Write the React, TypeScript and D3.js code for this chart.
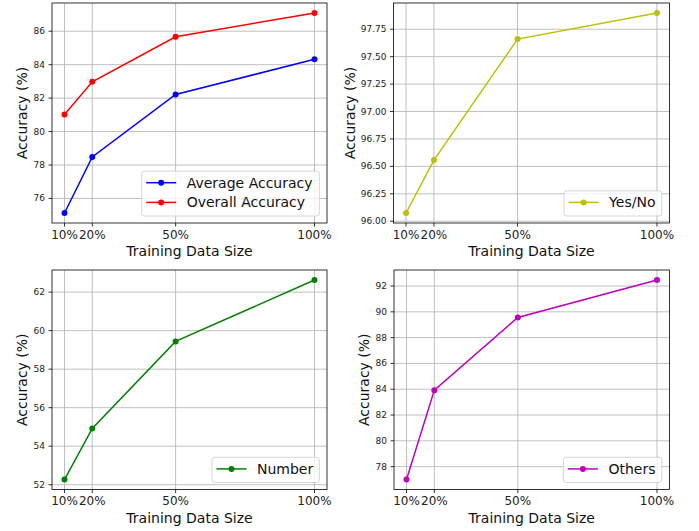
import React from "react";
import * as d3 from "d3";

const trainingSizes = [10, 20, 50, 100];
const xTickLabels = ["10%", "20%", "50%", "100%"];

const averageAccuracy = [75.13, 78.48, 82.22, 84.32];
const overallAccuracy = [81.02, 82.98, 85.67, 87.09];
const yesNoAccuracy = [96.075, 96.557, 97.66, 97.898];
const numberAccuracy = [52.27, 54.92, 59.44, 62.63];
const othersAccuracy = [77.0, 83.93, 89.56, 92.47];

const ticksTL = [76, 78, 80, 82, 84, 86];
const ticksTR = [96.0, 96.25, 96.5, 96.75, 97.0, 97.25, 97.5, 97.75];
const ticksBL = [52, 54, 56, 58, 60, 62];
const ticksBR = [78, 80, 82, 84, 86, 88, 90, 92];

type Series = { name: string; color: string; values: number[] };

type PanelProps = {
  left: number;
  right: number;
  top: number;
  bottom: number;
  series: Series[];
  yTicks: number[];
  yFmt: (v: number) => string;
  legendW: number;
  ylabelX: number;
};

const FONT = "DejaVu Sans, sans-serif";

function padDomain(vals: number[]): [number, number] {
  const mn = d3.min(vals)!;
  const mx = d3.max(vals)!;
  const m = (mx - mn) * 0.05;
  return [mn - m, mx + m];
}

function Panel({ left, right, top, bottom, series, yTicks, yFmt, legendW, ylabelX }: PanelProps) {
  const x = d3.scaleLinear().domain(padDomain(trainingSizes)).range([left, right]);
  const all = series.flatMap((s) => s.values);
  const y = d3.scaleLinear().domain(padDomain(all)).range([bottom, top]);
  const line = d3
    .line<number>()
    .x((_, i) => x(trainingSizes[i]))
    .y((v) => y(v));
  const rowH = 19.7;
  const legendH = 5.5 + rowH * series.length;
  const lx = right - 7.7 - legendW;
  const ly = bottom - 7 - legendH;
  return (
    <g>
      {/* grid */}
      {trainingSizes.map((t) => (
        <line key={"gx" + t} x1={x(t)} x2={x(t)} y1={top} y2={bottom} stroke="#b0b0b0" strokeWidth={0.8} />
      ))}
      {yTicks.map((t) => (
        <line key={"gy" + t} x1={left} x2={right} y1={y(t)} y2={y(t)} stroke="#b0b0b0" strokeWidth={0.8} />
      ))}
      {/* series */}
      {series.map((s) => (
        <g key={s.name}>
          <path d={line(s.values)!} fill="none" stroke={s.color} strokeWidth={1.5} />
          {s.values.map((v, i) => (
            <circle key={i} cx={x(trainingSizes[i])} cy={y(v)} r={3} fill={s.color} />
          ))}
        </g>
      ))}
      {/* frame */}
      <rect x={left} y={top} width={right - left} height={bottom - top} fill="none" stroke="#000" strokeWidth={0.8} />
      {/* x ticks */}
      {trainingSizes.map((t, i) => (
        <g key={"xt" + t}>
          <line x1={x(t)} x2={x(t)} y1={bottom} y2={bottom + 3.5} stroke="#000" strokeWidth={0.8} />
          <text x={x(t)} y={bottom + 11.5} textAnchor="middle" dominantBaseline="central" fontSize={12} fontFamily={FONT} fill="#222">
            {xTickLabels[i]}
          </text>
        </g>
      ))}
      {/* y ticks */}
      {yTicks.map((t) => (
        <g key={"yt" + t}>
          <line x1={left - 3.5} x2={left} y1={y(t)} y2={y(t)} stroke="#000" strokeWidth={0.8} />
          <text x={left - 7} y={y(t)} textAnchor="end" dominantBaseline="central" fontSize={9} fontFamily={FONT} fill="#222">
            {yFmt(t)}
          </text>
        </g>
      ))}
      {/* axis labels */}
      <text x={(left + right) / 2} y={bottom + 28} textAnchor="middle" dominantBaseline="central" fontSize={14} fontFamily={FONT} fill="#111">
        Training Data Size
      </text>
      <text
        transform={`translate(${ylabelX},${(top + bottom) / 2}) rotate(-90)`}
        textAnchor="middle"
        dominantBaseline="central"
        fontSize={14}
        fontFamily={FONT}
        fill="#111"
      >
        Accuracy (%)
      </text>
      {/* legend */}
      <rect x={lx} y={ly} width={legendW} height={legendH} rx={2.5} fill="#fff" fillOpacity={0.8} stroke="#cccccc" strokeWidth={0.8} />
      {series.map((s, i) => {
        const cy = ly + 11.6 + i * rowH;
        return (
          <g key={"lg" + s.name}>
            <line x1={lx + 4.5} x2={lx + 34.5} y1={cy} y2={cy} stroke={s.color} strokeWidth={1.5} />
            <circle cx={lx + 19.5} cy={cy} r={3} fill={s.color} />
            <text x={lx + 45} y={cy} dominantBaseline="central" fontSize={14} fontFamily={FONT} fill="#111">
              {s.name}
            </text>
          </g>
        );
      })}
    </g>
  );
}

export default function App() {
  const f0 = (v: number) => d3.format("d")(v);
  const f2 = (v: number) => d3.format(".2f")(v);
  return (
    <svg width={699} height={531} style={{ position: "absolute", left: 0, top: 0, background: "#fff" }}>
      <rect width={699} height={531} fill="#fff" />
      <Panel
        left={52}
        right={327}
        top={3}
        bottom={223}
        series={[
          { name: "Average Accuracy", color: "#0000ff", values: averageAccuracy },
          { name: "Overall Accuracy", color: "#ff0000", values: overallAccuracy },
        ]}
        yTicks={ticksTL}
        yFmt={f0}
        legendW={177.6}
        ylabelX={21.7}
      />
      <Panel
        left={393.5}
        right={669.5}
        top={3}
        bottom={223}
        series={[{ name: "Yes/No", color: "#bfbf00", values: yesNoAccuracy }]}
        yTicks={ticksTR}
        yFmt={f2}
        legendW={97.7}
        ylabelX={350}
      />
      <Panel
        left={52}
        right={327}
        top={270}
        bottom={489.5}
        series={[{ name: "Number", color: "#008000", values: numberAccuracy }]}
        yTicks={ticksBL}
        yFmt={f0}
        legendW={107.3}
        ylabelX={21.7}
      />
      <Panel
        left={394}
        right={669.5}
        top={270}
        bottom={489.5}
        series={[{ name: "Others", color: "#bf00bf", values: othersAccuracy }]}
        yTicks={ticksBR}
        yFmt={f0}
        legendW={98.4}
        ylabelX={364}
      />
    </svg>
  );
}
